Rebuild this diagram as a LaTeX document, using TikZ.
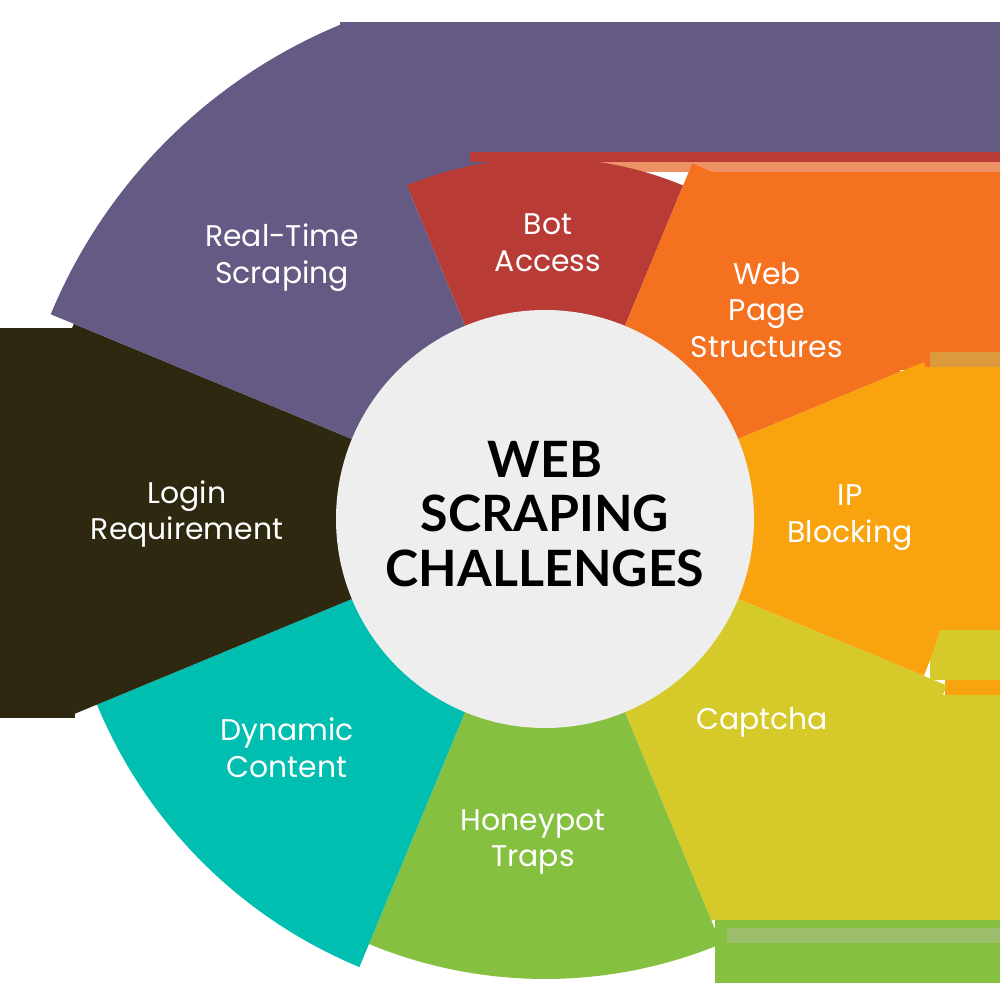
\documentclass[tikz,border=0pt]{standalone}
\usepackage{fontspec}
\setmainfont{Lato}
\newfontfamily\labelfont{Poppins}
\definecolor{rtpurple}{HTML}{645A83}
\definecolor{botred}{HTML}{B83B35}
\definecolor{weborange}{HTML}{F47120}
\definecolor{peach}{HTML}{EC9264}
\definecolor{ipamber}{HTML}{F9A30E}
\definecolor{blendor}{HTML}{DC9A3C}
\definecolor{capyellow}{HTML}{D6C92A}
\definecolor{honeygreen}{HTML}{86C041}
\definecolor{greygreen}{HTML}{9CBD6C}
\definecolor{dynteal}{HTML}{00BEB0}
\definecolor{logindark}{HTML}{2E2811}
\definecolor{hubgray}{HTML}{EEEEEE}
\begin{document}
\begin{tikzpicture}[x=0.02cm,y=0.02cm,
    lbl/.style={text=white,align=center,font=\labelfont\fontsize{17}{21}\selectfont},
    hubtext/.style={text=black,align=center,font=\fontsize{28.5}{31}\selectfont\bfseries}]
  \useasboundingbox (0,0) rectangle (1000,1000);
  \coordinate (c) at (545,481);

  % stray blocks behind the wheel
  \fill[rtpurple] (340,848) rectangle (1000,978);
  \fill[rtpurple] (345,810) rectangle (560,848);
  \fill[botred] (470,838) rectangle (1000,848);
  \fill[peach] (600,828) rectangle (1000,838);
  \fill[weborange] (690,630) rectangle (1000,828);
  \fill[blendor] (930,633) rectangle (1000,648);
  \fill[ipamber] (925,370) rectangle (1000,633);
  \fill[capyellow] (930,320) rectangle (1000,370);
  \fill[ipamber] (945,305) rectangle (1000,320);
  \fill[capyellow] (715,80) rectangle (1000,305);
  \fill[honeygreen] (715,17) rectangle (1000,80);
  \fill[greygreen] (727,57) rectangle (1000,72);
  \fill[logindark] (0,282) rectangle (75,672);

  % the eight sectors
  \foreach \a/\rad/\col in {67.5/361/botred, 22.5/385/weborange, -22.5/410/ipamber,
      -67.5/435/capyellow, -112.5/460/honeygreen, -157.5/485/dynteal,
      157.5/510/logindark, 112.5/535/rtpurple} {
    \fill[\col] (c) -- ++(\a:\rad) arc[start angle=\a, end angle=\a+45, radius=\rad] -- cycle;
  }
  \fill[hubgray] (c) circle[radius=209];

  \node[hubtext] (hub) at (545,486) {WEB\\SCRAPING\\CHALLENGES};
  \node[lbl] (realtime) at (282,742) {Real-Time\\Scraping};
  \node[lbl] (bot) at (548,757) {Bot\\Access};
  \node[lbl] (webpage) at (767,690) {Web\\Page\\Structures};
  \node[lbl] (ipblock) at (850,482) {IP\\Blocking};
  \node[lbl] (captcha) at (762,278) {Captcha};
  \node[lbl] (honeypot) at (533,158) {Honeypot\\Traps};
  \node[lbl] (dynamic) at (287,252) {Dynamic\\Content};
  \node[lbl] (login) at (187,486) {Login\\Requirement};
\end{tikzpicture}
\end{document}
